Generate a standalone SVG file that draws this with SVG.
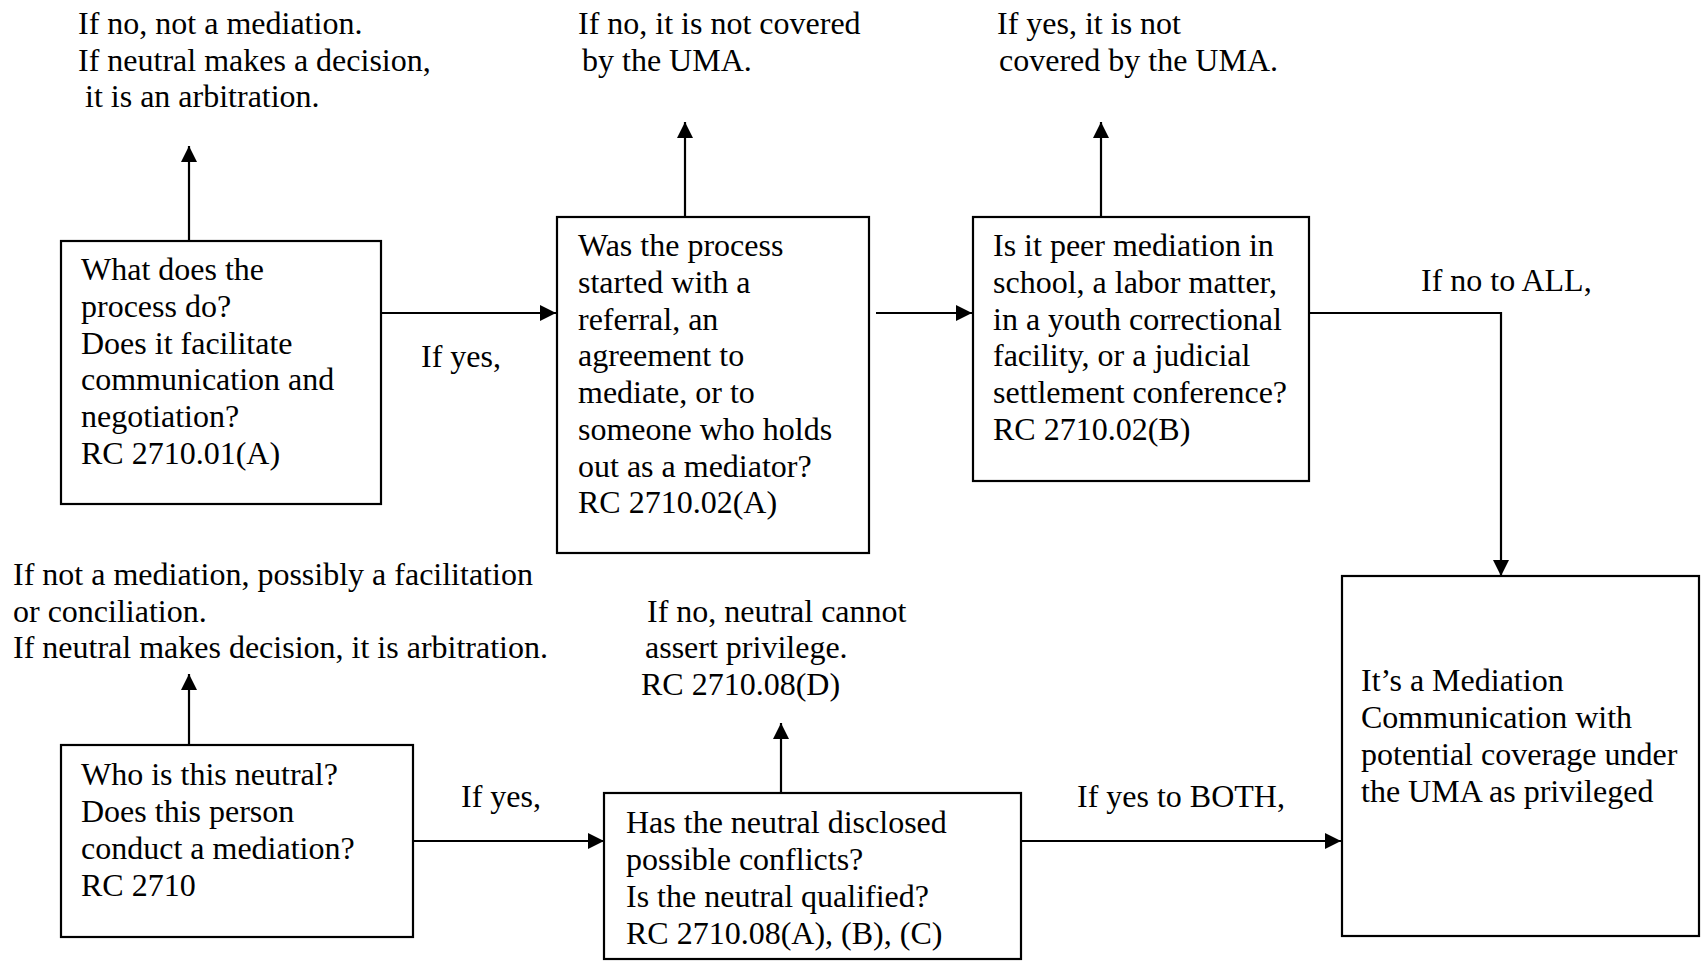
<svg xmlns="http://www.w3.org/2000/svg" width="1701" height="961" viewBox="0 0 1701 961">
<style>
text{font-family:"Liberation Serif","Times New Roman",serif;font-size:32px;fill:#000}
.box{fill:#fff;stroke:#000;stroke-width:2.2}
.con{fill:none;stroke:#000;stroke-width:2.2}
</style>
<defs>
<marker id="ah" viewBox="0 0 16 16" refX="16" refY="8" markerWidth="16" markerHeight="16" markerUnits="userSpaceOnUse" orient="auto">
<path d="M0,0 L16,8 L0,16 z" fill="#000"/>
</marker>
</defs>
<rect width="1701" height="961" fill="#fff"/>
<g id="connectors">
<line class="con" x1="189" y1="240" x2="189" y2="146" marker-end="url(#ah)"/>
<line class="con" x1="685" y1="217" x2="685" y2="122" marker-end="url(#ah)"/>
<line class="con" x1="1101" y1="217" x2="1101" y2="122" marker-end="url(#ah)"/>
<line class="con" x1="381" y1="313" x2="556" y2="313" marker-end="url(#ah)"/>
<line class="con" x1="876" y1="313" x2="972" y2="313" marker-end="url(#ah)"/>
<polyline class="con" points="1309,313 1501,313 1501,576" marker-end="url(#ah)"/>
<line class="con" x1="189" y1="745" x2="189" y2="674" marker-end="url(#ah)"/>
<line class="con" x1="781" y1="793" x2="781" y2="723" marker-end="url(#ah)"/>
<line class="con" x1="413" y1="841" x2="604" y2="841" marker-end="url(#ah)"/>
<line class="con" x1="1021" y1="841" x2="1341" y2="841" marker-end="url(#ah)"/>
</g>
<g id="labels">
<text x="78" y="34">If no, not a mediation.</text>
<text x="78" y="71">If neutral makes a decision,</text>
<text x="85" y="107">it is an arbitration.</text>
<text x="578" y="34">If no, it is not covered</text>
<text x="582" y="71">by the UMA.</text>
<text x="997" y="34">If yes, it is not</text>
<text x="999" y="71">covered by the UMA.</text>
<text x="421" y="367">If yes,</text>
<text x="1421" y="291">If no to ALL,</text>
<text x="13" y="585">If not a mediation, possibly a facilitation</text>
<text x="13" y="622">or conciliation.</text>
<text x="13" y="658">If neutral makes decision, it is arbitration.</text>
<text x="647" y="622">If no, neutral cannot</text>
<text x="645" y="658">assert privilege.</text>
<text x="641" y="695">RC 2710.08(D)</text>
<text x="461" y="807">If yes,</text>
<text x="1077" y="807">If yes to BOTH,</text>
</g>
<g id="node-process">
<rect class="box" x="61" y="241" width="320" height="263"/>
<text x="81" y="280">What does the</text>
<text x="81" y="317">process do?</text>
<text x="81" y="354">Does it facilitate</text>
<text x="81" y="390">communication and</text>
<text x="81" y="427">negotiation?</text>
<text x="81" y="464">RC 2710.01(A)</text>
</g>
<g id="node-started">
<rect class="box" x="557" y="217" width="312" height="336"/>
<text x="578" y="256">Was the process</text>
<text x="578" y="293">started with a</text>
<text x="578" y="330">referral, an</text>
<text x="578" y="366">agreement to</text>
<text x="578" y="403">mediate, or to</text>
<text x="578" y="440">someone who holds</text>
<text x="578" y="477">out as a mediator?</text>
<text x="578" y="513">RC 2710.02(A)</text>
</g>
<g id="node-peer">
<rect class="box" x="973" y="217" width="336" height="264"/>
<text x="993" y="256">Is it peer mediation in</text>
<text x="993" y="293">school, a labor matter,</text>
<text x="993" y="330">in a youth correctional</text>
<text x="993" y="366">facility, or a judicial</text>
<text x="993" y="403">settlement conference?</text>
<text x="993" y="440">RC 2710.02(B)</text>
</g>
<g id="node-result">
<rect class="box" x="1342" y="576" width="357" height="360"/>
<text x="1361" y="691">It’s a Mediation</text>
<text x="1361" y="728">Communication with</text>
<text x="1361" y="765">potential coverage under</text>
<text x="1361" y="802">the UMA as privileged</text>
</g>
<g id="node-neutral">
<rect class="box" x="61" y="745" width="352" height="192"/>
<text x="81" y="785">Who is this neutral?</text>
<text x="81" y="822">Does this person</text>
<text x="81" y="859">conduct a mediation?</text>
<text x="81" y="896">RC 2710</text>
</g>
<g id="node-disclosed">
<rect class="box" x="604" y="793" width="417" height="166"/>
<text x="626" y="833">Has the neutral disclosed</text>
<text x="626" y="870">possible conflicts?</text>
<text x="626" y="907">Is the neutral qualified?</text>
<text x="626" y="944">RC 2710.08(A), (B), (C)</text>
</g>
</svg>
